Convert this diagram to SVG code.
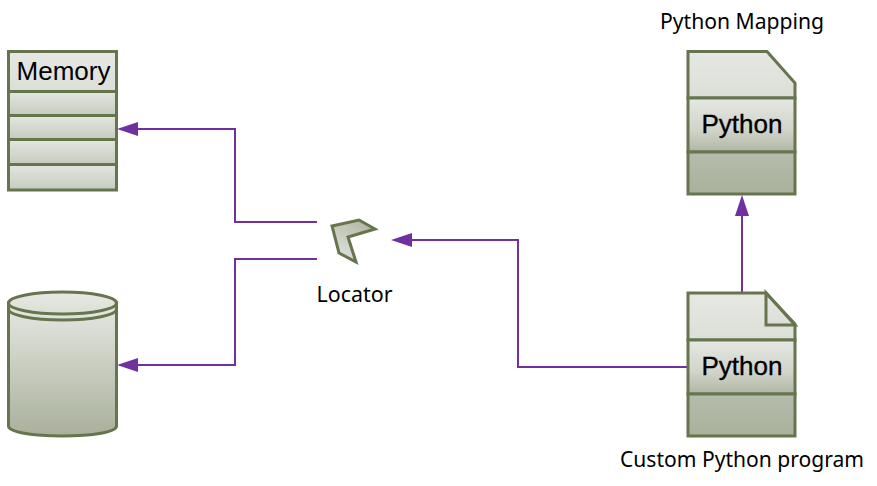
<svg xmlns="http://www.w3.org/2000/svg" width="877" height="486" viewBox="0 0 877 486">
<style>
.s{stroke:#66754d;stroke-width:3;stroke-linejoin:miter}
.n{fill:none}
.c{fill:none;stroke:#7030a0;stroke-width:2}
.a{fill:#7030a0}
.big{font-family:"Liberation Sans",Arial,sans-serif;font-size:26px;fill:#000}
.b{stroke:#000;stroke-width:.35}
.lab{font-family:"Noto Sans","DejaVu Sans",sans-serif;font-size:21px;fill:#000}
</style>
<defs>
<linearGradient id="g1" x1="0" y1="0" x2="0" y2="1"><stop offset="0" stop-color="#e6e8e3"/><stop offset="1" stop-color="#a9b09b"/></linearGradient>
<linearGradient id="g2" x1="0" y1="0" x2="0" y2="1"><stop offset="0" stop-color="#e6e8e3"/><stop offset="1" stop-color="#dcdfd8"/></linearGradient>
<linearGradient id="g3" x1="0" y1="0" x2="0" y2="1"><stop offset="0" stop-color="#e6e8e3"/><stop offset=".6" stop-color="#d0d4c9"/><stop offset="1" stop-color="#b0b6a4"/></linearGradient>
<linearGradient id="g4" x1="0" y1="0" x2="0" y2="1"><stop offset="0" stop-color="#e4e6e1"/><stop offset="1" stop-color="#c6cbbe"/></linearGradient>
<linearGradient id="g5" x1="0" y1="0" x2="0" y2="1"><stop offset="0" stop-color="#b6bcab"/><stop offset="1" stop-color="#a9b09b"/></linearGradient>
<linearGradient id="g6" x1="0" y1="1" x2="0.6" y2="0"><stop offset="0" stop-color="#e6e8e3"/><stop offset="1" stop-color="#b4baa8"/></linearGradient>
</defs>
<g id="connectors">
<path class="c" d="M317 222H235V129H130"/><path class="a" d="M117 129L138 122V136Z"/>
<path class="c" d="M317 259H235V365H130"/><path class="a" d="M117 365L138 358V372Z"/>
<path class="c" d="M688 367H518V240H403"/><path class="a" d="M391 240L412 233V247Z"/>
<path class="c" d="M742 292V208"/><path class="a" d="M742 195L735 216H749Z"/>
</g>
<g id="memory">
<rect class="s" x="8.500" y="51.500" width="108" height="40" fill="url(#g2)"/>
<rect class="s" x="8.500" y="91.500" width="108" height="24" fill="url(#g4)"/>
<rect class="s" x="8.500" y="115.500" width="108" height="24" fill="url(#g4)"/>
<rect class="s" x="8.500" y="139.500" width="108" height="25" fill="url(#g4)"/>
<rect class="s" x="8.500" y="164.500" width="108" height="25.500" fill="url(#g4)"/>
<text class="big" x="63.500" y="80" text-anchor="middle">Memory</text>
</g>
<g id="database">
<path class="s" d="M8.500 303V426C8.500 432 32 436 62.500 436S116.500 432 116.500 426V303Z" fill="url(#g1)"/>
<ellipse class="s" cx="62.500" cy="303" rx="54" ry="11" fill="url(#g2)"/>
<path class="s n" d="M8.500 309C8.500 315 32 320 62.500 320S116.500 315 116.500 309"/>
</g>
<g id="locator">
<path class="s" d="M332 226L359 220L375 229L348 237L356 262L339 253Z" fill="url(#g6)"/>
<text class="lab" x="354.500" y="302" text-anchor="middle" textLength="76" lengthAdjust="spacingAndGlyphs">Locator</text>
</g>
<g id="python-mapping">
<path class="s" d="M688 51.500H767L795 83V98H688Z" fill="url(#g2)"/>
<rect class="s" x="688" y="98" width="107" height="54" fill="url(#g3)"/>
<rect class="s" x="688" y="152" width="107" height="42" fill="url(#g5)"/>
<text class="big b" x="742" y="133" text-anchor="middle">Python</text>
<text class="lab" x="742" y="29" text-anchor="middle" textLength="164" lengthAdjust="spacingAndGlyphs">Python Mapping</text>
</g>
<g id="custom-program">
<path class="s" d="M688 293H766L795 324V340H688Z" fill="url(#g2)"/>
<path class="s" d="M766 293V325H795Z" fill="url(#g2)"/>
<rect class="s" x="688" y="340" width="107" height="54" fill="url(#g3)"/>
<rect class="s" x="688" y="394" width="107" height="42" fill="url(#g5)"/>
<text class="big b" x="742" y="375" text-anchor="middle">Python</text>
<text class="lab" x="742" y="467" text-anchor="middle" textLength="244" lengthAdjust="spacingAndGlyphs">Custom Python program</text>
</g>
</svg>
